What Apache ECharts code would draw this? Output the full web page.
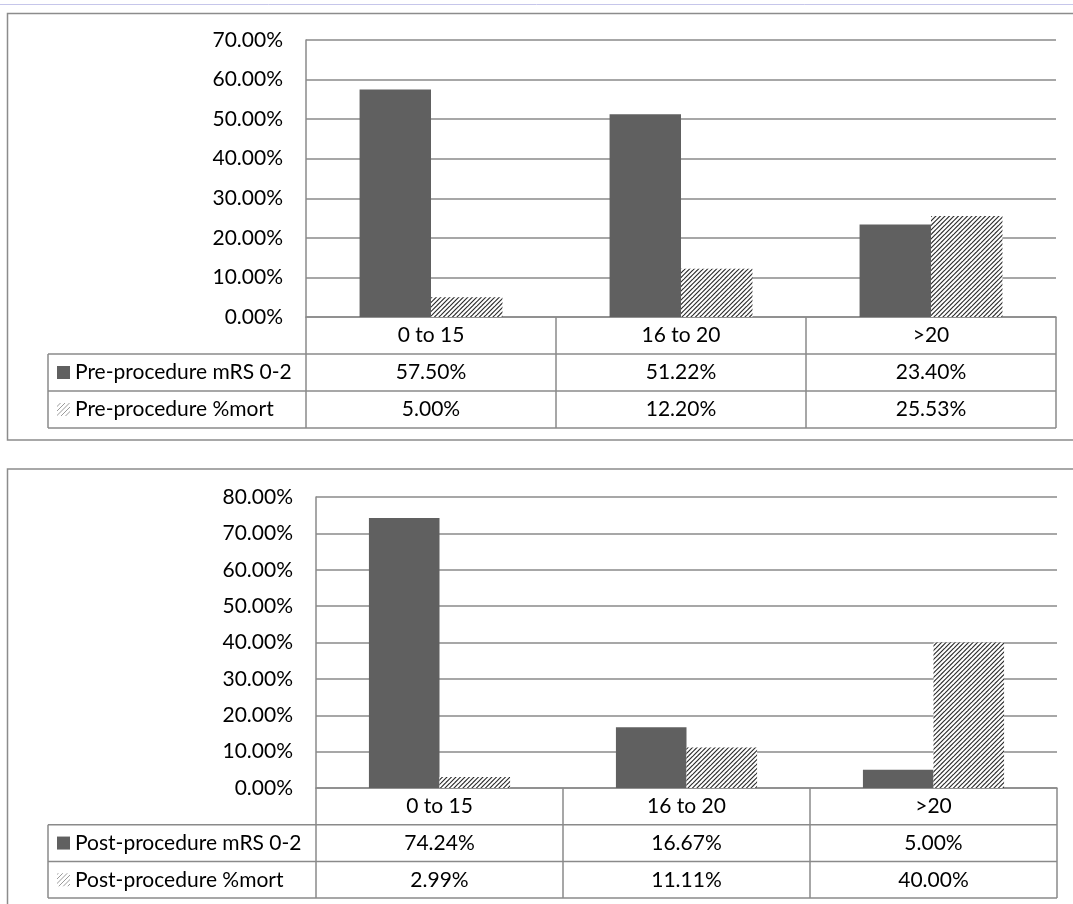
<!DOCTYPE html>
<html>
<head>
<meta charset="utf-8">
<script src="https://cdn.jsdelivr.net/npm/echarts@6/dist/echarts.min.js"></script>
<style>
  html, body { margin: 0; padding: 0; background: #fff; }
  #chart { width: 1073px; height: 904px; }
</style>
</head>
<body>
<div id="chart"></div>
<script>
// Outcome by score band, before and after the procedure
const categories = ['0 to 15', '16 to 20', '>20'];

const preNames = ['Pre-procedure mRS 0-2', 'Pre-procedure %mort'];
const preMrs = [57.50, 51.22, 23.40];
const preMort = [5.00, 12.20, 25.53];

const postNames = ['Post-procedure mRS 0-2', 'Post-procedure %mort'];
const postMrs = [74.24, 16.67, 5.00];
const postMort = [2.99, 11.11, 40.00];

const preAxisMax = 70;
const postAxisMax = 80;
const axisStep = 10;

// ---- styling ----
const FONT_FAMILY = 'Lato';
const FONT_SIZE = 21;
const FONT = FONT_SIZE + 'px ' + FONT_FAMILY;
const SOLID = '#606060';
const LINE = '#8a8a8a';
const BOX = '#8c8c8c';

// diagonal "/" hatch tile used for the mortality bars;
// the tile holds two stripes so the spacing can be a half pixel
function hatchTile(color, width, step) {
  const size = step * 2;
  const c = document.createElement('canvas');
  c.width = c.height = size;
  const g = c.getContext('2d');
  g.fillStyle = '#ffffff';
  g.fillRect(0, 0, size, size);
  g.strokeStyle = color;
  g.lineWidth = width;
  g.beginPath();
  for (let k = -2; k <= 6; k++) {
    const d = k * step;           // stripe along x + y = d
    g.moveTo(d - size, size);
    g.lineTo(d + size, -size);
  }
  g.stroke();
  return c;
}
const hatchBar = { image: hatchTile('#2e2e2e', 1.2, 4.5), repeat: 'repeat' };
const hatchIcon = { image: hatchTile('#9a9a9a', 1.0, 4.5), repeat: 'repeat' };

// plot rectangles of the two panels
const panels = [
  { left: 306, right: 1073 - 1056, top: 40, bottom: 317, rowH: 37,
    max: preAxisMax, names: preNames, values: [preMrs, preMort] },
  { left: 316, right: 1073 - 1057, top: 497, bottom: 788, rowH: 36.7,
    max: postAxisMax, names: postNames, values: [postMrs, postMort] }
];

const grids = panels.map(p => ({
  left: p.left, right: p.right, top: p.top, height: p.bottom - p.top,
  containLabel: false
}));

const xAxes = panels.map((p, i) => ({
  type: 'category', gridIndex: i, data: categories,
  axisLabel: { show: false },
  axisTick: { show: false },
  axisLine: { show: true, lineStyle: { color: LINE, width: 1.5 } },
  splitLine: { show: false }
}));

const yAxes = panels.map((p, i) => ({
  type: 'value', gridIndex: i, min: 0, max: p.max, interval: axisStep,
  axisLabel: {
    formatter: v => v.toFixed(2) + '%',
    color: '#000', fontSize: FONT_SIZE, fontFamily: FONT_FAMILY, margin: 23
  },
  axisTick: { show: false },
  axisLine: { show: true, lineStyle: { color: LINE, width: 1.5 } },
  splitLine: { show: true, lineStyle: { color: LINE, width: 1.5 } }
}));

const series = [];
panels.forEach((p, i) => {
  [SOLID, hatchBar].forEach((fill, s) => {
    series.push({
      type: 'bar', name: p.names[s], data: p.values[s],
      xAxisIndex: i, yAxisIndex: i,
      barWidth: (100 / 3.5) + '%', barGap: '0%',
      itemStyle: { color: fill },
      silent: true
    });
  });
});

const chart = echarts.init(document.getElementById('chart'), null, { renderer: 'canvas' });
chart.setOption({
  animation: false,
  backgroundColor: '#ffffff',
  grid: grids, xAxis: xAxes, yAxis: yAxes, series: series
});

// ---- data tables under each plot, plus the panel frames ----
function line(x1, y1, x2, y2, color, w) {
  return { type: 'line', silent: true, z: 10,
    shape: { x1, y1, x2, y2 },
    style: { stroke: color, lineWidth: w } };
}
function text(str, x, y, align) {
  return { type: 'text', silent: true, z: 11,
    style: { text: str, x, y, fill: '#000', font: FONT,
      align: align, textAlign: align, verticalAlign: 'middle', textVerticalAlign: 'middle' } };
}

const LEG_LEFT = 48;
const graphics = [];

// thin rule along the very top
graphics.push(line(0, 4.5, 1073, 4.5, '#c6c6ea', 1));
// panel frames
graphics.push({ type: 'rect', silent: true, z: 0,
  shape: { x: 7.5, y: 13.5, width: 1200, height: 426.5 },
  style: { fill: 'none', stroke: BOX, lineWidth: 1.5 } });
graphics.push({ type: 'rect', silent: true, z: 0,
  shape: { x: 7.5, y: 469, width: 1200, height: 600 },
  style: { fill: 'none', stroke: BOX, lineWidth: 1.5 } });

panels.forEach((p, i) => {
  const x0 = chart.convertToPixel({ xAxisIndex: i }, 0);
  const x1 = chart.convertToPixel({ xAxisIndex: i }, 1);
  const band = x1 - x0;
  const left = x0 - band / 2;
  const right = left + band * categories.length;
  const y0 = chart.convertToPixel({ yAxisIndex: i }, 0);
  const h = p.rowH;

  // horizontal rules
  graphics.push(line(left, y0 + h, right, y0 + h, LINE, 1.5));
  graphics.push(line(LEG_LEFT, y0 + h, left, y0 + h, LINE, 1.5));
  graphics.push(line(LEG_LEFT, y0 + 2 * h, right, y0 + 2 * h, LINE, 1.5));
  graphics.push(line(LEG_LEFT, y0 + 3 * h, right, y0 + 3 * h, LINE, 1.5));
  // vertical rules
  graphics.push(line(LEG_LEFT, y0 + h, LEG_LEFT, y0 + 3 * h, LINE, 1.5));
  for (let k = 0; k <= categories.length; k++) {
    const x = left + k * band;
    graphics.push(line(x, y0, x, y0 + 3 * h, LINE, 1.5));
  }
  // category row
  categories.forEach((c, k) => {
    graphics.push(text(c, chart.convertToPixel({ xAxisIndex: i }, k), y0 + h / 2, 'center'));
  });
  // series rows with legend keys
  p.names.forEach((name, s) => {
    const cy = y0 + h * (s + 1) + h / 2;
    graphics.push({ type: 'rect', silent: true, z: 11,
      shape: { x: 57, y: cy - 6.5, width: 13, height: 13 },
      style: { fill: s === 0 ? SOLID : hatchIcon } });
    graphics.push(text(name, 75, cy, 'left'));
    p.values[s].forEach((v, k) => {
      graphics.push(text(v.toFixed(2) + '%', chart.convertToPixel({ xAxisIndex: i }, k), cy, 'center'));
    });
  });
});

chart.setOption({ graphic: { elements: graphics } });
</script>
</body>
</html>
